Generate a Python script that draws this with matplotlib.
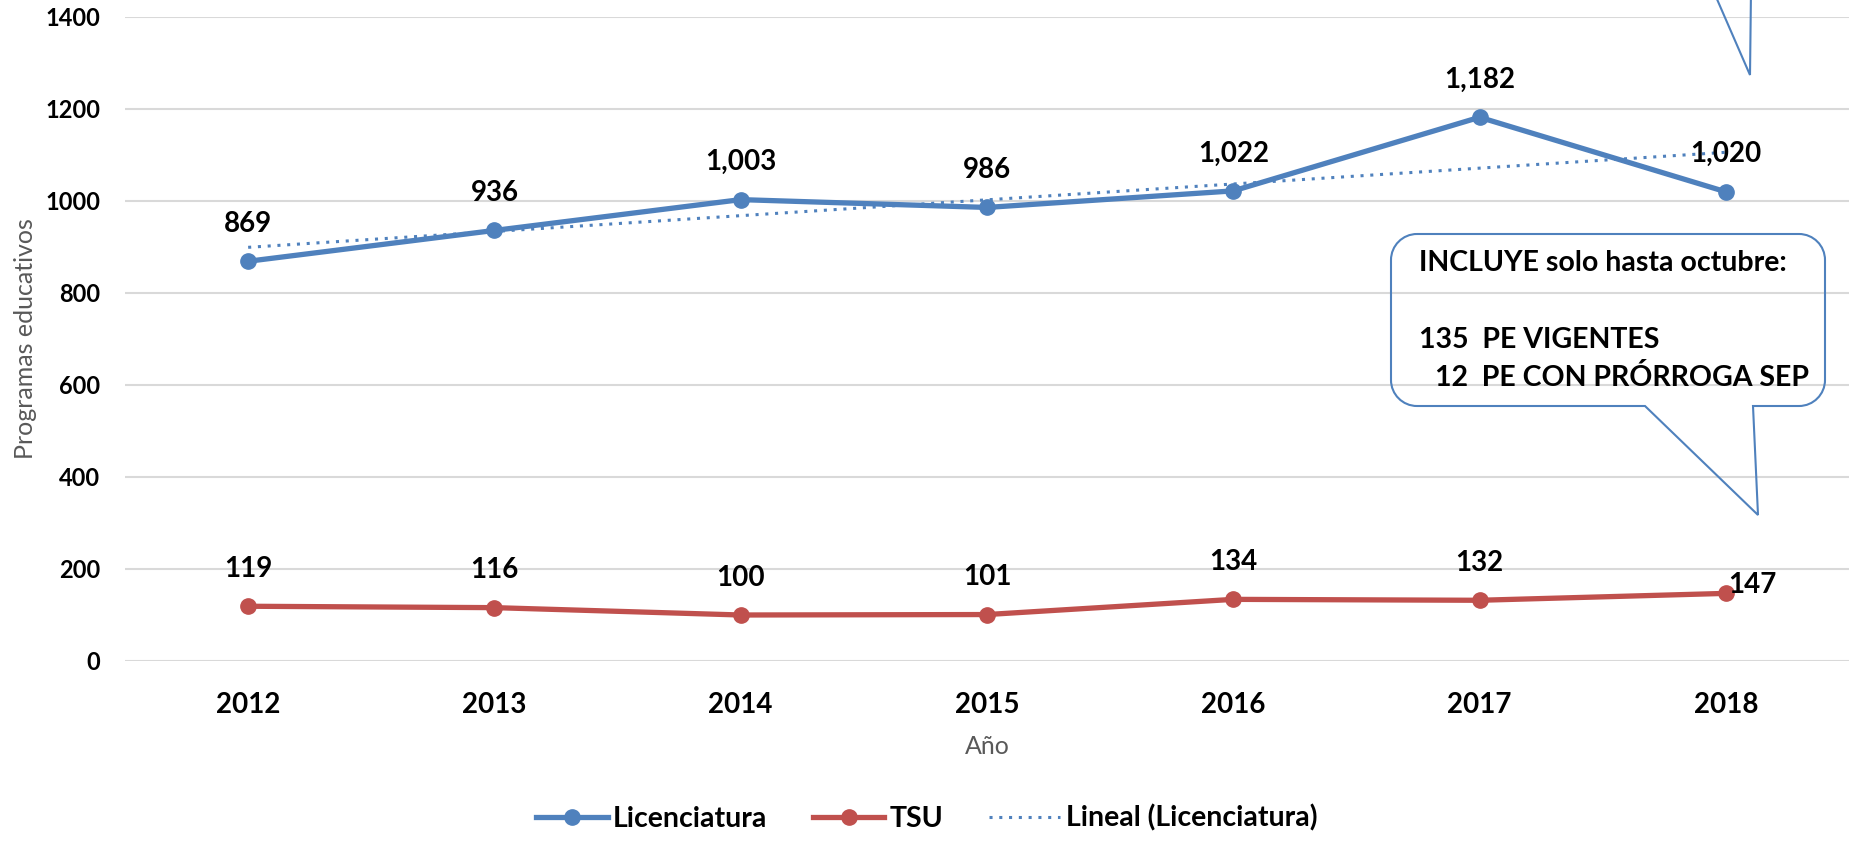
import matplotlib.pyplot as plt
import numpy as np
from matplotlib.path import Path
from matplotlib.patches import PathPatch
from matplotlib.transforms import Affine2D

years = ['2012', '2013', '2014', '2015', '2016', '2017', '2018']
licenciatura = [869, 936, 1003, 986, 1022, 1182, 1020]
tsu = [119, 116, 100, 101, 134, 132, 147]
lic_labels = ['869', '936', '1,003', '986', '1,022', '1,182', '1,020']
tsu_labels = ['119', '116', '100', '101', '134', '132', '147']
callout_lines = ['INCLUYE solo hasta octubre:', '135  PE VIGENTES', '12  PE CON PRÓRROGA SEP']

blue = '#4F81BD'
red = '#C0504D'
fam = ['Lato', 'DejaVu Sans']
plt.rcParams['font.family'] = fam

W, H = 1854, 843
fig = plt.figure(figsize=(W / 100, H / 100), dpi=100)
ax = fig.add_axes([125 / W, 1 - 661 / H, 1724 / W, 644 / H])

x = np.arange(len(years))
# tendencia lineal de Licenciatura
coef = np.polyfit(x, licenciatura, 1)
trend = np.polyval(coef, x)

ax.plot(x, licenciatura, color=blue, lw=3.8, marker='o', ms=11, label='Licenciatura', zorder=4)
ax.plot(x, tsu, color=red, lw=3.8, marker='o', ms=11, label='TSU', zorder=4)
ax.plot(x, trend, color=blue, lw=2.2, ls=(0, (1, 2.2)), label='Lineal (Licenciatura)', zorder=3)

for i in range(len(years)):
    ax.annotate(lic_labels[i], (x[i], licenciatura[i]), xytext=(0, 27), textcoords='offset points',
                ha='center', va='center', fontsize=20, fontweight='bold', zorder=5)
    if i == len(years) - 1:
        ax.annotate(tsu_labels[i], (x[i], tsu[i]), xytext=(2, 6), textcoords='offset points',
                    ha='left', va='center', fontsize=20, fontweight='bold', zorder=5)
    else:
        ax.annotate(tsu_labels[i], (x[i], tsu[i]), xytext=(0, 27), textcoords='offset points',
                    ha='center', va='center', fontsize=20, fontweight='bold', zorder=5)

ax.set_xlim(-0.5, 6.5)
ax.set_ylim(0, 1400)
ax.set_yticks(range(0, 1401, 200))
ax.set_xticks(x)
ax.set_xticklabels(years)
ax.grid(axis='y', color='#D9D9D9', lw=1.5)
ax.set_axisbelow(True)
for s in ax.spines.values():
    s.set_visible(False)
ax.tick_params(axis='both', length=0, labelsize=17)
ax.tick_params(axis='y', pad=18)
ax.tick_params(axis='x', pad=22, labelsize=20)
for t in ax.get_xticklabels() + ax.get_yticklabels():
    t.set_fontweight('bold')

fig.text(26 / W, 1 - 339 / H, 'Programas educativos', rotation=90, ha='center', va='center',
         fontsize=18, color='#595959')
fig.text(987 / W, 1 - 747 / H, 'Año', ha='center', va='center', fontsize=18, color='#595959')

leg = fig.legend(loc='center', bbox_to_anchor=(0.5, 1 - 818 / H), ncol=3, frameon=False,
                 prop={'family': fam, 'weight': 'bold', 'size': 20.5},
                 handlelength=2.5, handletextpad=0.2, columnspacing=1.6)

# globos de texto (coordenadas en pixeles, origen arriba a la izquierda)
px = Affine2D().scale(1, -1).translate(0, H).scale(1 / W, 1 / H) + fig.transFigure


def rounded_callout(x0, y0, x1, y1, r, b0, b1, tip):
    k = 0.5523 * r
    verts = [(x0 + r, y0), (x1 - r, y0),
             (x1 - r + k, y0), (x1, y0 + r - k), (x1, y0 + r),
             (x1, y1 - r),
             (x1, y1 - r + k), (x1 - r + k, y1), (x1 - r, y1),
             (b1, y1), tip, (b0, y1),
             (x0 + r, y1),
             (x0 + r - k, y1), (x0, y1 - r + k), (x0, y1 - r),
             (x0, y0 + r),
             (x0, y0 + r - k), (x0 + r - k, y0), (x0 + r, y0)]
    codes = [Path.MOVETO, Path.LINETO,
             Path.CURVE4, Path.CURVE4, Path.CURVE4,
             Path.LINETO,
             Path.CURVE4, Path.CURVE4, Path.CURVE4,
             Path.LINETO, Path.LINETO, Path.LINETO,
             Path.LINETO,
             Path.CURVE4, Path.CURVE4, Path.CURVE4,
             Path.LINETO,
             Path.CURVE4, Path.CURVE4, Path.CURVE4]
    return PathPatch(Path(verts, codes), transform=px, fill=False, edgecolor=blue, lw=1.5,
                     clip_on=False, zorder=6)


fig.add_artist(rounded_callout(1391, 234, 1825, 406, 26, 1645, 1753, (1758, 515)))
# globo superior (fuera de la imagen, solo se ve la punta)
fig.add_artist(rounded_callout(1500, -200, 1850, -10, 26, 1713, 1751, (1750, 75)))

fig.text(1419 / W, 1 - 263 / H, callout_lines[0], ha='left', va='center', fontsize=20.5,
         fontweight='bold', zorder=7)
fig.text(1419 / W, 1 - 340 / H, callout_lines[1], ha='left', va='center', fontsize=20.5,
         fontweight='bold', zorder=7)
fig.text(1435 / W, 1 - 378 / H, callout_lines[2], ha='left', va='center', fontsize=20.5,
         fontweight='bold', zorder=7)

fig.savefig('out.png', dpi=100)
